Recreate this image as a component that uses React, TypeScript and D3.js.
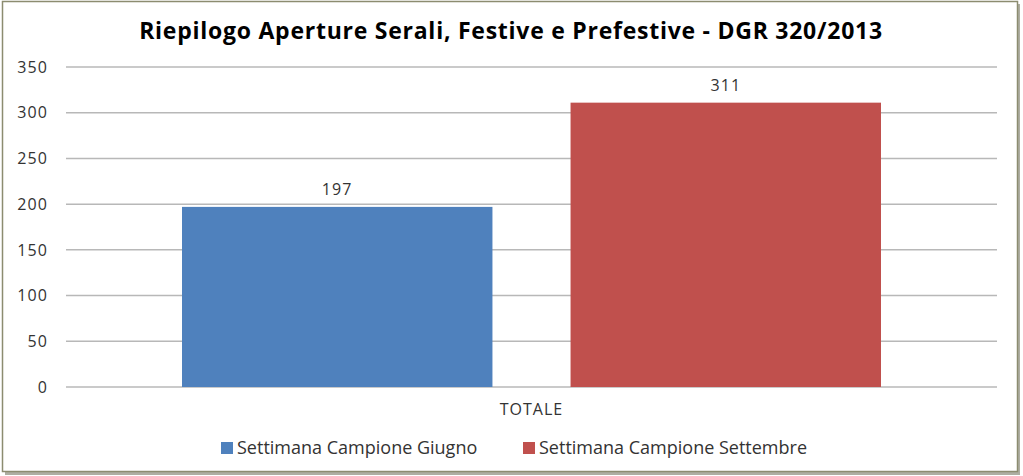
import React from "react";
import * as d3 from "d3";

const categories = ["TOTALE"];
const seriesNames = ["Settimana Campione Giugno", "Settimana Campione Settembre"];
const seriesValues = [197, 311];
const seriesColors = ["#4F81BD", "#C0504D"];
const yTicks = [0, 50, 100, 150, 200, 250, 300, 350];
const title = "Riepilogo Aperture Serali, Festive e Prefestive - DGR 320/2013";

const W = 1023;
const H = 476;
const plot = { left: 66, right: 997, top: 67, bottom: 387 };
const font = "'Open Sans', 'Noto Sans', sans-serif";

export default function App() {
  const y = d3.scaleLinear().domain([0, 350]).range([plot.bottom, plot.top]);
  const x0 = d3.scaleBand().domain(categories).range([plot.left, plot.right]).paddingInner(0).paddingOuter(0);
  const bw = x0.bandwidth();
  const x1 = d3
    .scaleBand()
    .domain(seriesNames)
    .range([116, bw - 116])
    .paddingInner(78 / 388)
    .paddingOuter(0);

  return (
    <svg width={W} height={H} style={{ position: "absolute", left: 0, top: 0, display: "block" }}>
      <rect x={0} y={0} width={W} height={H} fill="#ffffff" />
      {/* shadow */}
      <rect x={5} y={4} width={1015} height={471} fill="#6b6b55" opacity={0.55} />
      <rect x={2.5} y={1.5} width={1015} height={470} fill="#ffffff" stroke="#8c8c70" strokeWidth={1.5} />
      <text
        x={511}
        y={38.5}
        textAnchor="middle"
        fontFamily={font}
        fontWeight="bold"
        fontSize={23}
        letterSpacing={0.75}
        fill="#000"
      >
        {title}
      </text>
      {yTicks.map((t) => (
        <g key={t}>
          <line x1={plot.left} x2={plot.right} y1={y(t)} y2={y(t)} stroke="#b8b8b8" strokeWidth={1.5} />
          <text
            x={48}
            y={y(t)}
            dy="0.36em"
            textAnchor="end"
            fontFamily={font}
            fontSize={16}
            letterSpacing={1.1}
            fill="#333"
          >
            {t}
          </text>
        </g>
      ))}
      {categories.map((c) => (
        <g key={c}>
          {seriesNames.map((s, i) => {
            const bx = (x0(c) as number) + (x1(s) as number);
            const v = seriesValues[i];
            return (
              <g key={s}>
                <rect x={bx} y={y(v)} width={x1.bandwidth()} height={y(0) - y(v)} fill={seriesColors[i]} />
                <text
                  x={bx + x1.bandwidth() / 2}
                  y={y(v) - 12}
                  textAnchor="middle"
                  fontFamily={font}
                  fontSize={16}
                  letterSpacing={1.1}
                  fill="#333"
                >
                  {v}
                </text>
              </g>
            );
          })}
          <text
            x={(x0(c) as number) + bw / 2}
            y={415}
            textAnchor="middle"
            fontFamily={font}
            fontSize={16}
            letterSpacing={1}
            fill="#333"
          >
            {c}
          </text>
        </g>
      ))}
      {seriesNames.map((s, i) => {
        const lx = [221, 523][i];
        return (
          <g key={s}>
            <rect x={lx} y={442} width={12} height={12} fill={seriesColors[i]} />
            <text x={lx + 16} y={453.5} fontFamily={font} fontSize={18} fill="#333">
              {s}
            </text>
          </g>
        );
      })}
    </svg>
  );
}
